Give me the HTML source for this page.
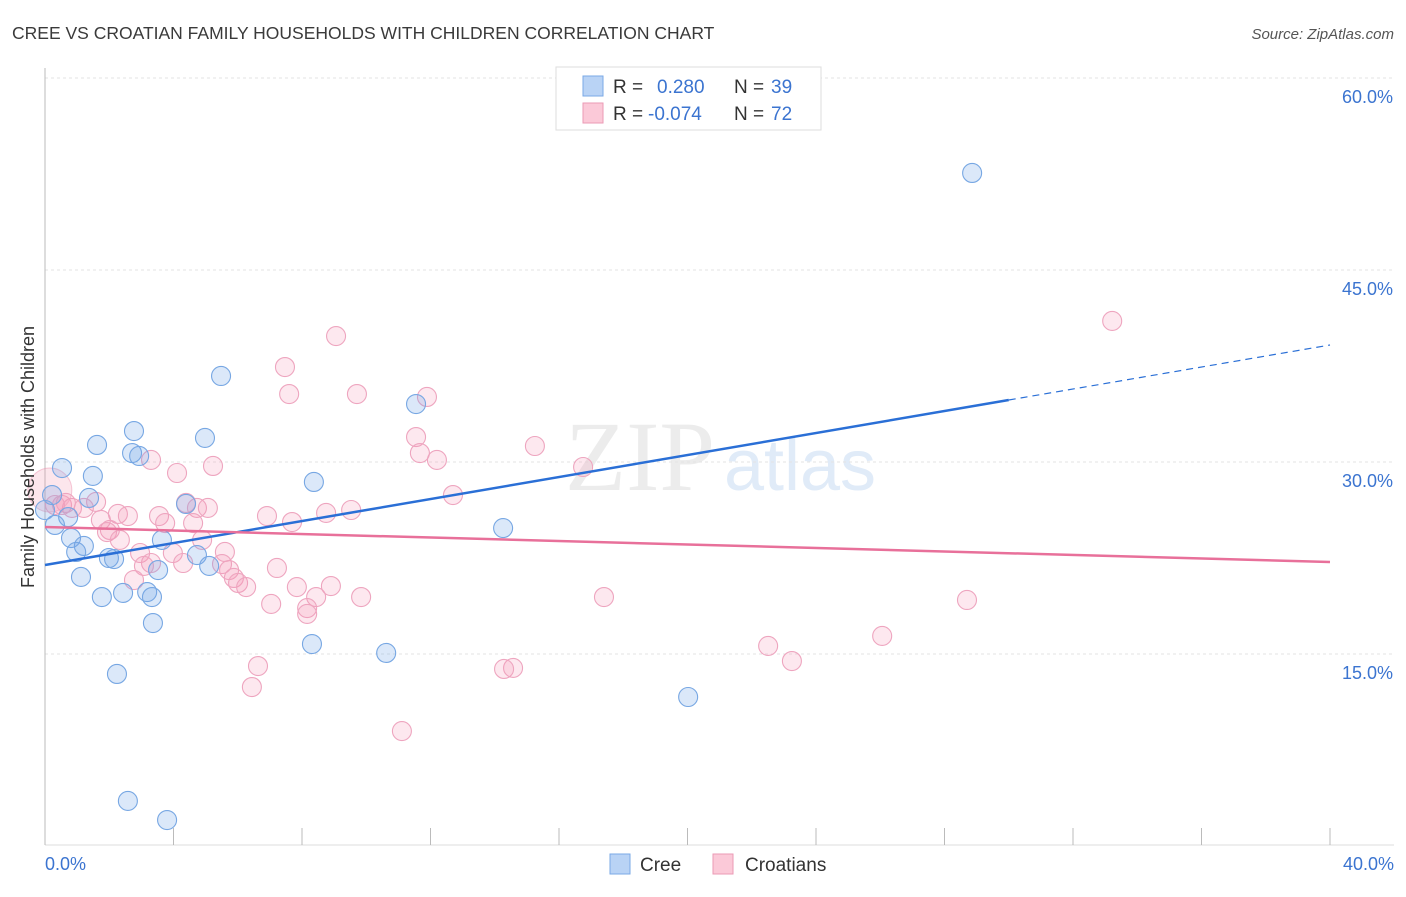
<!DOCTYPE html>
<html><head><meta charset="utf-8"><style>
body{margin:0;background:#fff;font-family:"Liberation Sans",sans-serif;}
</style></head><body>
<svg width="1406" height="892" xmlns="http://www.w3.org/2000/svg" id="chart" style="font-family:'Liberation Sans',sans-serif">
<text x="12" y="39" font-size="17.5" fill="#3a3a3a">CREE VS CROATIAN FAMILY HOUSEHOLDS WITH CHILDREN CORRELATION CHART</text>
<text x="1394" y="39" font-size="15" fill="#555" text-anchor="end" font-style="italic">Source: ZipAtlas.com</text>
<text x="640" y="490" font-size="100" fill="#ececec" font-family="Liberation Serif" text-anchor="middle">ZIP</text>
<text x="800" y="490" font-size="72" fill="#e0ebf8" text-anchor="middle">atlas</text>
<g id="grid"></g>
<g id="axes"></g>
<g id="pts"></g>
<g id="lines"></g>
<text transform="translate(34,457) rotate(-90)" font-size="18" fill="#333" text-anchor="middle">Family Households with Children</text>
<g>
<rect x="556" y="67" width="265" height="63" fill="#fff" stroke="#ddd"/>
<rect x="583" y="76" width="20" height="20" fill="#b9d3f5" stroke="#7aa8e6"/>
<text x="613" y="93" font-size="19" fill="#333">R =</text><text x="657" y="93" font-size="19" fill="#3b74d0">0.280</text>
<text x="734" y="93" font-size="19" fill="#333">N =</text><text x="771" y="93" font-size="19" fill="#3b74d0">39</text>
<rect x="583" y="103" width="20" height="20" fill="#fbc9d8" stroke="#eb9ab5"/>
<text x="613" y="120" font-size="19" fill="#333">R =</text><text x="648" y="120" font-size="19" fill="#3b74d0">-0.074</text>
<text x="734" y="120" font-size="19" fill="#333">N =</text><text x="771" y="120" font-size="19" fill="#3b74d0">72</text>
</g>
<g>
<rect x="610" y="854" width="20" height="20" fill="#b9d3f5" stroke="#7aa8e6"/>
<text x="640" y="871" font-size="19" fill="#333">Cree</text>
<rect x="713" y="854" width="20" height="20" fill="#fbc9d8" stroke="#eb9ab5"/>
<text x="745" y="871" font-size="19" fill="#333">Croatians</text>
</g>
</svg>
<script>
const yTicks=[15,30,45,60];
const yTickLabels=["15.0%","30.0%","45.0%","60.0%"];
const xEndLabels=["0.0%","40.0%"];
const creeX=[28.86,5.48,11.55,2.77,4.98,1.62,2.71,2.93,0.53,1.49,8.37,1.37,4.39,0.22,0.72,0.31,14.26,0.81,3.64,1.21,0.97,1.99,2.15,4.73,3.52,5.11,1.12,1.77,2.43,3.18,3.33,3.36,8.31,10.62,2.24,20.02,2.58,3.80,0];
const creeY=[52.58,36.72,34.53,32.42,31.88,31.33,30.70,30.47,29.53,28.91,28.44,27.19,26.72,27.42,25.70,25.08,24.84,24.06,23.91,23.44,22.97,22.50,22.42,22.73,21.56,21.88,21.02,19.45,19.77,19.84,19.45,17.42,15.78,15.08,13.44,11.64,3.52,2.03,26.25];
const croX=[33.22,9.06,7.47,7.60,9.71,11.89,11.55,11.67,15.25,12.20,3.30,4.11,5.23,16.75,12.70,1.59,4.39,4.73,5.07,0.53,0.84,1.21,2.27,2.58,3.55,6.91,8.75,9.53,7.69,1.74,3.74,4.61,2.02,1.93,2.33,4.89,5.60,2.96,3.98,3.30,4.30,3.08,5.51,5.73,7.22,5.88,6.01,6.26,2.77,7.84,8.90,8.44,9.84,17.40,28.70,7.04,8.16,8.16,26.06,22.51,23.25,6.63,14.57,14.29,6.44,11.11,0.31,0.65];
const croY=[41.02,39.84,37.42,35.31,35.31,35.08,31.95,30.70,31.25,30.16,30.16,29.14,29.69,29.61,27.42,26.88,26.80,26.41,26.41,26.64,26.41,26.41,25.94,25.78,25.78,25.78,26.02,26.25,25.31,25.47,25.23,25.23,24.69,24.53,23.91,23.91,22.97,22.89,22.89,22.11,22.11,21.88,22.03,21.56,21.72,20.94,20.55,20.23,20.78,20.23,20.31,19.45,19.45,19.45,19.22,18.91,18.59,18.13,16.41,15.63,14.45,14.06,13.91,13.83,12.42,8.98,26.64,26.80];
const creeTrend=[21.95,39.14];
const croTrend=[24.92,22.19];
const NS="http://www.w3.org/2000/svg";
const X=v=>45+v/40*1285, Y=v=>78+(60-v)*12.8;
function mk(t,a,p){const e=document.createElementNS(NS,t);for(const k in a)e.setAttribute(k,a[k]);document.getElementById(p).appendChild(e);return e;}
yTicks.forEach((t,i)=>{
 const l=mk('line',{x1:45,x2:1394,y1:Y(t),y2:Y(t),stroke:'#e3e3e3','stroke-dasharray':'3,3'},'grid');
 
 
 const tx=mk('text',{x:1393,y:Y(t)+25,'font-size':18,fill:'#3b74d0','text-anchor':'end'},'grid');
 tx.textContent=yTickLabels[i];
 
 
});
const ax=mk('line',{x1:45,x2:45,y1:68,y2:845,stroke:'#bbb'},'axes');


const bx=mk('line',{x1:45,x2:1394,y1:845,y2:845,stroke:'#ddd'},'axes');


for(let i=0;i<=10;i++){
 const t=mk('line',{x1:X(i*4),x2:X(i*4),y1:828,y2:845,stroke:'#bbb'},'axes');
 
 
}
[[0,'start',45],[40,'end',1394]].forEach((d,i)=>{
 const t=mk('text',{x:d[2],y:870,'font-size':18,fill:'#3b74d0','text-anchor':d[1]},'axes');
 t.textContent=xEndLabels[i];
 
 
});
const big=mk('circle',{cx:X(0.15),cy:Y(27.81),r:22,fill:'rgba(240,140,170,0.22)',stroke:'rgba(235,140,170,0.45)'},'pts');


croX.forEach((x,i)=>{
 const c=mk('circle',{cx:X(x),cy:Y(croY[i]),r:9.5,fill:'rgba(244,150,180,0.22)',stroke:'#eea5bf','stroke-width':1.1},'pts');
 
 
});
creeX.forEach((x,i)=>{
 const c=mk('circle',{cx:X(x),cy:Y(creeY[i]),r:9.5,fill:'rgba(110,165,230,0.25)',stroke:'#77a7e3','stroke-width':1.1},'pts');
 
 
});
const cy=x=>creeTrend[0]+(creeTrend[1]-creeTrend[0])*x/40;
const l1=mk('line',{x1:X(0),y1:Y(cy(0)),x2:X(30),y2:Y(cy(30)),stroke:'#2a6fd6','stroke-width':2.5},'lines');


const l2=mk('line',{x1:X(30),y1:Y(cy(30)),x2:X(40),y2:Y(cy(40)),stroke:'#2a6fd6','stroke-width':1.2,'stroke-dasharray':'7,5'},'lines');


const l3=mk('line',{x1:X(0),y1:Y(croTrend[0]),x2:X(40),y2:Y(croTrend[1]),stroke:'#e8709a','stroke-width':2.5},'lines');


</script>
</body></html>
